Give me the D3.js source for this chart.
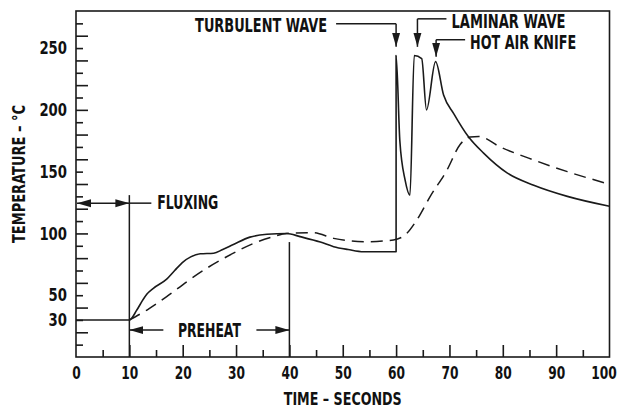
<!DOCTYPE html>
<html>
<head>
<meta charset="utf-8">
<script src="https://cdn.jsdelivr.net/npm/d3@7"></script>
<style>
  body { margin: 0; background: #fff; }
  text { font-family: "DejaVu Sans Condensed", "DejaVu Sans", sans-serif; font-weight: bold; fill: #111; }
</style>
</head>
<body>
<div id="chart"></div>
<script>
// measured profile (actual board)
var solidTime = [0, 10, 11.4, 12.5, 13.3, 14.5, 17, 18.5, 20.1, 21.5, 23.3, 25.8, 27.5, 29.5, 32.6, 35.8, 39.5, 42, 45.8, 48.3, 51, 53.9, 60,
                 60, 60.7, 61.7, 62.6, 63.4, 64.8, 65.7, 67.4, 68.9, 70.8, 73.6, 76.4, 80.8, 85.8, 92.1, 100];
var solidTemp = [30, 30, 38, 46, 51, 55.6, 63, 70, 77, 81, 83.5, 84, 87, 91, 97, 99.3, 100, 97.4, 93, 89.3, 87, 85.2, 85.2,
                 244, 175, 143, 131, 244, 241.5, 200, 239, 212, 197, 178, 165, 149, 139, 130, 122];

// dashed profile
var dashedTime = [10, 13.3, 17, 20.8, 24.5, 29.5, 33.3, 37, 39.5, 44.5, 48.3, 54.5, 59.5, 62, 63.9, 66.4, 69.5, 72, 73.9, 75.5, 79.5, 85.8, 92.1, 100];
var dashedTemp = [30, 38, 48.8, 61, 71.8, 84, 92, 97.4, 100, 100.6, 96, 93.3, 94.7, 100, 111, 130, 151, 172, 178, 178.5, 170, 159.4, 150, 139.8];

var xTickLabels = [0, 10, 20, 30, 40, 50, 60, 70, 80, 90, 100];
var yTickLabels = [30, 50, 100, 150, 200, 250];

// arrow annotations: label, time, temp at arrow tip
var waveLabels = ["TURBULENT WAVE", "LAMINAR WAVE", "HOT AIR KNIFE"];
var waveTime = [60, 64, 67.5];
var waveTemp = [251, 251, 243];

// create margins
var margin = {top: 11, right: 14.5, bottom: 51, left: 76},
    width = 624 - margin.left - margin.right,
    height = 408 - margin.top - margin.bottom;

var x = d3.scaleLinear().domain([0, 100]).range([0, width]);
var y = d3.scaleLinear().domain([0, 280]).range([height, 0]);

var svg = d3.select("#chart").append("svg")
        .attr("width", 624)
        .attr("height", 408)
    .append("g")
        .attr("transform", `translate(${margin.left}, ${margin.top})`);

var ink = "#1a1a1a";

svg.append("defs").append("marker")
    .attr("id", "head")
    .attr("viewBox", "0 0 14 10")
    .attr("refX", 14).attr("refY", 5)
    .attr("markerWidth", 14).attr("markerHeight", 10)
    .attr("markerUnits", "userSpaceOnUse")
    .attr("orient", "auto-start-reverse")
  .append("path")
    .attr("d", "M0,1 L14,5 L0,9 Z")
    .attr("fill", ink);

// frame
svg.append("rect")
    .attr("width", width).attr("height", height)
    .attr("fill", "none").attr("stroke", ink).attr("stroke-width", 1.6);

// x ticks
svg.append("g")
    .attr("transform", `translate(0, ${height})`)
    .call(d3.axisBottom(x).tickValues(d3.range(10, 100, 10)).tickSize(-12).tickFormat(""))
svg.append("g")
    .attr("transform", `translate(0, ${height})`)
    .call(d3.axisBottom(x).tickValues(d3.range(5, 100, 10)).tickSize(-7).tickFormat(""))
svg.append("g")
    .attr("class", "xlab")
    .attr("transform", `translate(0, ${height})`)
    .call(d3.axisBottom(x).tickValues(xTickLabels).tickSize(0).tickPadding(9));

// y ticks
svg.append("g")
    .call(d3.axisLeft(y).tickValues(d3.range(20, 280, 20)).tickSize(-12).tickFormat(""));
svg.append("g")
    .call(d3.axisLeft(y).tickValues(d3.range(10, 280, 20)).tickSize(-7).tickFormat(""));
svg.append("g")
    .attr("class", "ylab")
    .call(d3.axisLeft(y).tickValues(yTickLabels).tickSize(0).tickPadding(9));

svg.selectAll(".domain").remove();
svg.selectAll(".tick line").attr("stroke", ink).attr("stroke-width", 1.6);
svg.selectAll(".xlab text, .ylab text")
    .style("font-family", "DejaVu Sans Condensed")
    .style("font-weight", "bold")
    .style("font-size", "18px")
    .attr("fill", "#111")
    .attr("lengthAdjust", "spacingAndGlyphs");
svg.selectAll(".ylab text").attr("textLength", d => String(d).length * 9.2);
svg.selectAll(".xlab text").attr("textLength", d => String(d).length * 8.5)
    .attr("dx", d => d == 100 ? -6 : 0);

// curves
var line = d3.line()
    .x(d => x(d[0]))
    .y(d => y(d[1]))
    .curve(d3.curveMonotoneX);

svg.append("path")
    .datum(dashedTime.map((t, i) => [t, dashedTemp[i]]))
    .attr("d", line)
    .attr("fill", "none").attr("stroke", ink).attr("stroke-width", 1.5)
    .attr("stroke-dasharray", "12,7");

svg.append("path")
    .datum(solidTime.map((t, i) => [t, solidTemp[i]]))
    .attr("d", line)
    .attr("fill", "none").attr("stroke", ink).attr("stroke-width", 1.6)
    .attr("stroke-linejoin", "round");

// phase markers
svg.append("line")
    .attr("x1", x(10)).attr("x2", x(10))
    .attr("y1", y(131)).attr("y2", height)
    .attr("stroke", ink).attr("stroke-width", 1.5);
svg.append("line")
    .attr("x1", x(40)).attr("x2", x(40))
    .attr("y1", y(93)).attr("y2", height)
    .attr("stroke", ink).attr("stroke-width", 1.5);

// fluxing
svg.append("line")
    .attr("x1", x(0) + 1).attr("x2", x(10))
    .attr("y1", y(124.5)).attr("y2", y(124.5))
    .attr("stroke", ink).attr("stroke-width", 1.5)
    .attr("marker-start", "url(#head)").attr("marker-end", "url(#head)");
svg.append("line")
    .attr("x1", x(10)).attr("x2", x(10) + 22)
    .attr("y1", y(124.5)).attr("y2", y(124.5))
    .attr("stroke", ink).attr("stroke-width", 1.5);
svg.append("text")
    .attr("x", x(10) + 28).attr("y", y(124.5) + 6)
    .attr("textLength", 61).attr("lengthAdjust", "spacingAndGlyphs")
    .style("font-size", "19px")
    .text("FLUXING");

// preheat
var pY = y(21.8);
svg.append("line")
    .attr("x1", x(10) + 34).attr("x2", x(10))
    .attr("y1", pY).attr("y2", pY)
    .attr("stroke", ink).attr("stroke-width", 1.5)
    .attr("marker-end", "url(#head)");
svg.append("line")
    .attr("x1", x(40) - 33).attr("x2", x(40))
    .attr("y1", pY).attr("y2", pY)
    .attr("stroke", ink).attr("stroke-width", 1.5)
    .attr("marker-end", "url(#head)");
svg.append("text")
    .attr("x", x(25)).attr("y", pY + 7)
    .attr("text-anchor", "middle")
    .attr("textLength", 63).attr("lengthAdjust", "spacingAndGlyphs")
    .style("font-size", "20px")
    .text("PREHEAT");

// wave arrows: elbow height above tip, text width
var elbow = [23, 28, 17];
var textLen = [132, 114, 106];
waveLabels.forEach(function(label, i) {
    var tx = x(waveTime[i]), ty = y(waveTemp[i]);
    var ey = ty - elbow[i];
    var g = svg.append("g");
    g.append("line")
        .attr("x1", tx).attr("x2", tx)
        .attr("y1", ey).attr("y2", ty)
        .attr("stroke", ink).attr("stroke-width", 1.5)
        .attr("marker-end", "url(#head)");
    if (i == 0) {
        g.append("line")
            .attr("x1", tx).attr("x2", tx - 60)
            .attr("y1", ey).attr("y2", ey)
            .attr("stroke", ink).attr("stroke-width", 1.5);
        g.append("text")
            .attr("x", tx - 69).attr("y", ey + 8)
            .attr("text-anchor", "end")
            .attr("textLength", textLen[i]).attr("lengthAdjust", "spacingAndGlyphs")
            .style("font-size", "19px")
            .text(label);
    } else {
        g.append("line")
            .attr("x1", tx).attr("x2", tx + 29)
            .attr("y1", ey).attr("y2", ey)
            .attr("stroke", ink).attr("stroke-width", 1.5);
        g.append("text")
            .attr("x", tx + 34).attr("y", ey + 9)
            .attr("textLength", textLen[i]).attr("lengthAdjust", "spacingAndGlyphs")
            .style("font-size", "19px")
            .text(label);
    }
});

// axis titles
svg.append("text")
    .attr("x", width / 2).attr("y", height + 48)
    .attr("text-anchor", "middle")
    .attr("textLength", 118).attr("lengthAdjust", "spacingAndGlyphs")
    .style("font-size", "18px")
    .text("TIME – SECONDS");

svg.append("text")
    .attr("transform", "rotate(-90)")
    .attr("x", -(height / 2 - 10)).attr("y", -51)
    .attr("text-anchor", "middle")
    .attr("textLength", 138).attr("lengthAdjust", "spacingAndGlyphs")
    .style("font-size", "18px")
    .text("TEMPERATURE – °C");
</script>
</body>
</html>
